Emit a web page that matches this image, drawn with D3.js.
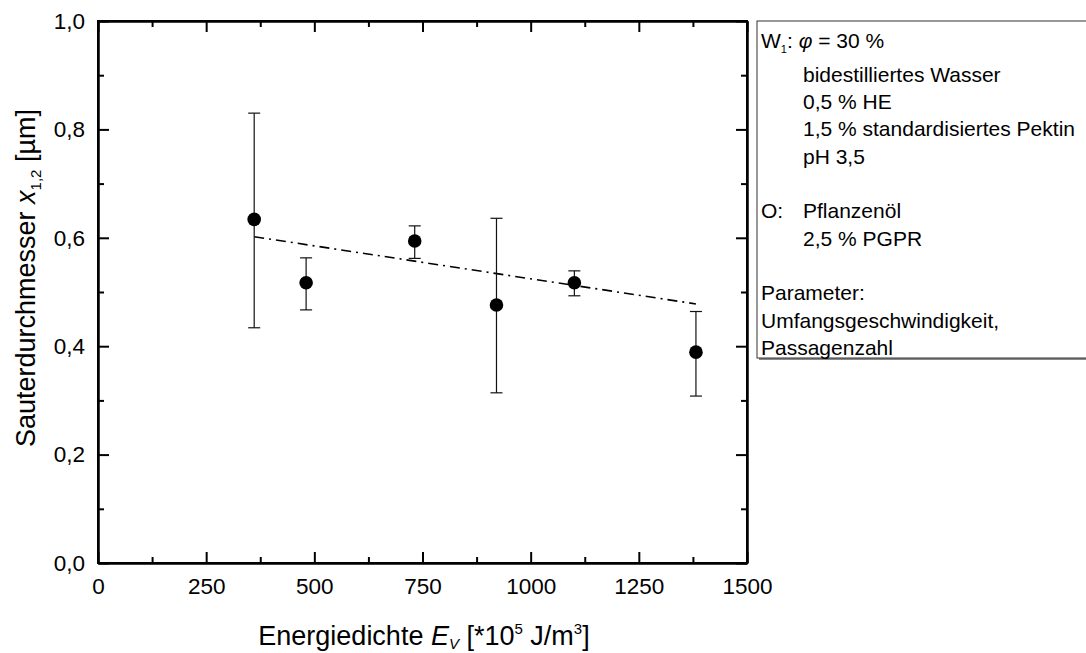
<!DOCTYPE html>
<html lang="de">
<head>
	<meta charset="UTF-8">
	<title>Sauterdurchmesser</title>
	<style>
		body { margin: 0; background: #fff; }
		svg { display: block; font-family: Arial, "Liberation Sans", sans-serif; }
		.axis path { stroke: #000; stroke-width: 2; }
		.axis line { stroke: #000; stroke-width: 2; }
		.axis text { font-size: 22.5px; fill: #000; font-family: Arial, "Liberation Sans", sans-serif; }
	</style>
</head>
<body>
	<script src="https://cdn.jsdelivr.net/npm/d3@7"></script>
	<script>
		// messwerte
		var energie = [361, 481, 732, 921, 1101, 1382];
		var sauter = [0.634, 0.517, 0.594, 0.476, 0.517, 0.389];
		var fehlerOben = [0.830, 0.563, 0.622, 0.636, 0.539, 0.464];
		var fehlerUnten = [0.434, 0.467, 0.562, 0.314, 0.493, 0.308];

		// ausgleichsgerade
		var fitX = [361, 1382];
		var fitY = [0.602, 0.478];

		var xTicks = [0, 250, 500, 750, 1000, 1250, 1500];
		var xMinor = [125, 375, 625, 875, 1125, 1375];
		var yTicks = [0, 0.2, 0.4, 0.6, 0.8, 1.0];
		var yMinor = [0.1, 0.3, 0.5, 0.7, 0.9];

		var legendLines = [
			"W1: φ = 30 %",
			"bidestilliertes Wasser",
			"0,5 % HE",
			"1,5 % standardisiertes Pektin",
			"pH 3,5",
			"",
			"O: Pflanzenöl",
			"2,5 % PGPR",
			"",
			"Parameter:",
			"Umfangsgeschwindigkeit,",
			"Passagenzahl"
		];

		var width = 1086, height = 653;
		var mLeft = 98, mTop = 21, plotW = 649, plotH = 542;

		var svg = d3.select("body").append("svg")
					.attr("width", width)
					.attr("height", height);

		var x = d3.scaleLinear().domain([0, 1500]).range([mLeft, mLeft + plotW]);
		var y = d3.scaleLinear().domain([0, 1]).range([mTop + plotH, mTop]);

		var komma = function(d) { return d.toFixed(1).replace(".", ","); };

		// achsen, ticks nach innen
		svg.append("g").attr("class", "axis")
			.attr("transform", "translate(0," + (mTop + plotH) + ")")
			.call(d3.axisBottom(x).tickValues(xTicks).tickSize(-11).tickPadding(15).tickFormat(d3.format("d")).tickSizeOuter(0));
		svg.append("g").attr("class", "axis")
			.attr("transform", "translate(0," + (mTop + plotH) + ")")
			.call(d3.axisBottom(x).tickValues(xMinor).tickSize(-6).tickFormat("").tickSizeOuter(0));
		svg.append("g").attr("class", "axis")
			.attr("transform", "translate(0," + mTop + ")")
			.call(d3.axisTop(x).tickValues(xTicks).tickSize(-11).tickFormat("").tickSizeOuter(0));
		svg.append("g").attr("class", "axis")
			.attr("transform", "translate(0," + mTop + ")")
			.call(d3.axisTop(x).tickValues(xMinor).tickSize(-6).tickFormat("").tickSizeOuter(0));

		svg.append("g").attr("class", "axis")
			.attr("transform", "translate(" + mLeft + ",0)")
			.call(d3.axisLeft(y).tickValues(yTicks).tickSize(-11).tickPadding(13).tickFormat(komma).tickSizeOuter(0));
		svg.append("g").attr("class", "axis")
			.attr("transform", "translate(" + mLeft + ",0)")
			.call(d3.axisLeft(y).tickValues(yMinor).tickSize(-6).tickFormat("").tickSizeOuter(0));
		svg.append("g").attr("class", "axis")
			.attr("transform", "translate(" + (mLeft + plotW) + ",0)")
			.call(d3.axisRight(y).tickValues(yTicks).tickSize(-11).tickFormat("").tickSizeOuter(0));
		svg.append("g").attr("class", "axis")
			.attr("transform", "translate(" + (mLeft + plotW) + ",0)")
			.call(d3.axisRight(y).tickValues(yMinor).tickSize(-6).tickFormat("").tickSizeOuter(0));

		// rahmen
		svg.append("rect")
			.attr("x", mLeft).attr("y", mTop)
			.attr("width", plotW).attr("height", plotH)
			.attr("fill", "none").attr("stroke", "#000").attr("stroke-width", 2);

		// ausgleichsgerade strich-punkt
		svg.append("path")
			.datum(d3.zip(fitX, fitY))
			.attr("fill", "none")
			.attr("stroke", "#000")
			.attr("stroke-width", 1.6)
			.attr("stroke-dasharray", "10,5,2,5")
			.attr("d", d3.line().x(function(d) { return x(d[0]); }).y(function(d) { return y(d[1]); }));

		// fehlerbalken
		var fb = svg.append("g").attr("stroke", "#111").attr("stroke-width", 1.2);
		energie.forEach(function(e, i) {
			fb.append("line").attr("x1", x(e)).attr("x2", x(e))
				.attr("y1", y(fehlerOben[i])).attr("y2", y(fehlerUnten[i]));
			fb.append("line").attr("x1", x(e) - 6).attr("x2", x(e) + 6)
				.attr("y1", y(fehlerOben[i])).attr("y2", y(fehlerOben[i]));
			fb.append("line").attr("x1", x(e) - 6).attr("x2", x(e) + 6)
				.attr("y1", y(fehlerUnten[i])).attr("y2", y(fehlerUnten[i]));
		});

		svg.append("g").selectAll("circle")
			.data(energie)
			.enter().append("circle")
			.attr("cx", function(d) { return x(d); })
			.attr("cy", function(d, i) { return y(sauter[i]); })
			.attr("r", 6.8)
			.attr("fill", "#000");

		// achsentitel
		var xt = svg.append("text")
			.attr("x", 424).attr("y", 645)
			.attr("text-anchor", "middle")
			.attr("font-size", 27);
		xt.append("tspan").text("Energiedichte ");
		xt.append("tspan").attr("font-style", "italic").text("E");
		xt.append("tspan").attr("font-size", 15).attr("font-style", "italic").attr("dy", 4).text("V");
		xt.append("tspan").attr("dy", -4).text(" [*10");
		xt.append("tspan").attr("font-size", 15).attr("dy", -11).text("5");
		xt.append("tspan").attr("dy", 11).text(" J/m");
		xt.append("tspan").attr("font-size", 15).attr("dy", -11).text("3");
		xt.append("tspan").attr("dy", 11).text("]");

		var yt = svg.append("text")
			.attr("transform", "translate(35,278) rotate(-90)")
			.attr("text-anchor", "middle")
			.attr("font-size", 27);
		yt.append("tspan").text("Sauterdurchmesser ");
		yt.append("tspan").attr("font-style", "italic").text("x");
		yt.append("tspan").attr("font-size", 15).attr("dy", 6).text("1,2");
		yt.append("tspan").attr("dy", -6).text(" [µm]");

		// legende
		var lg = svg.append("g");
		lg.append("rect")
			.attr("x", 759).attr("y", 23).attr("width", 340).attr("height", 337)
			.attr("fill", "#888");
		lg.append("rect")
			.attr("x", 757).attr("y", 21).attr("width", 340).attr("height", 337)
			.attr("fill", "#fff").attr("stroke", "#333").attr("stroke-width", 1);

		var lineH = 27.3, indent = 803, lx = 761, fs = 21;
		legendLines.forEach(function(t, i) {
			if (!t) return;
			var yy = 54.5 + i * lineH;
			if (i == 0) yy = 48;
			var tx = lg.append("text").attr("y", yy).attr("font-size", fs);
			if (i == 0) {
				tx.attr("x", lx);
				tx.append("tspan").text("W");
				tx.append("tspan").attr("font-size", 11).attr("dy", 5).text("1");
				tx.append("tspan").attr("dy", -5).text(": ");
				tx.append("tspan").attr("font-style", "italic").text("φ");
				tx.append("tspan").text(" = 30 %");
			} else if (t.indexOf("O:") == 0) {
				tx.attr("x", lx).text("O:");
				lg.append("text").attr("x", indent).attr("y", yy).attr("font-size", fs).text(t.slice(3));
			} else if (i >= 9) {
				tx.attr("x", lx).text(t);
			} else {
				tx.attr("x", indent).text(t);
			}
		});
	</script>
</body>
</html>
